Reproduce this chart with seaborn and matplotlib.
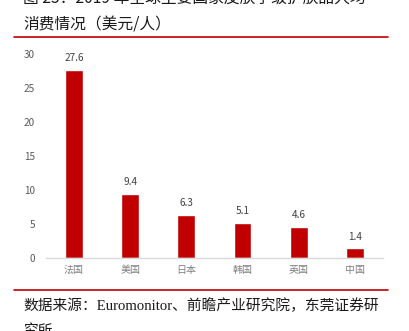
import matplotlib
matplotlib.use("Agg")
import matplotlib.pyplot as plt
import seaborn as sns
import pandas as pd

countries = ["法国", "美国", "日本", "韩国", "英国", "中国"]
spend = [27.6, 9.4, 6.3, 5.1, 4.6, 1.4]
yticks = [0, 5, 10, 15, 20, 25, 30]

sns.set_theme(style="white")
plt.rcParams["font.family"] = ["Noto Sans CJK SC", "DejaVu Sans"]

df = pd.DataFrame({"country": countries, "spend": spend})

fig = plt.figure(figsize=(4.09, 3.31), dpi=100)
ax = fig.add_axes([0.1125, 0.2205, 0.8235, 0.6165])

sns.barplot(data=df, x="country", y="spend", color="#C00000", saturation=1,
            width=0.32, ax=ax)

ax.set_ylim(0, 30)
ax.set_yticks(yticks)
ax.set_yticklabels([str(t) for t in yticks], fontsize=7.2, color="#595959")
ax.tick_params(axis="y", length=0, pad=8)
ax.tick_params(axis="x", length=0, pad=5, labelsize=7.2, labelcolor="#7f7f7f")
ax.set_xlabel("")
ax.set_ylabel("")
for s in ["top", "right", "left"]:
    ax.spines[s].set_visible(False)
ax.spines["bottom"].set_color("#D9D9D9")
ax.spines["bottom"].set_linewidth(1.0)

for p, v in zip(ax.patches, spend):
    ax.annotate(f"{v:.1f}", (p.get_x() + p.get_width() / 2, v),
                xytext=(0, 5), textcoords="offset points",
                ha="center", va="bottom", fontsize=7.2, color="#404040")

# heading (first line runs off the top edge) and rules
fig.text(23 / 409, 1 - (-1) / 331, "图 25：2019 年全球主要国家皮肤学级护肤品人均",
         fontsize=11.3, color="#1a1a1a", va="center", ha="left")
fig.text(23 / 409, 1 - 25.5 / 331, "消费情况（美元/人）",
         fontsize=11.3, color="#1a1a1a", va="center", ha="left")
fig.add_artist(plt.Line2D([14 / 409, 388 / 409], [1 - 37 / 331, 1 - 37 / 331],
                          color="#C00000", linewidth=1.2))
fig.add_artist(plt.Line2D([14 / 409, 388 / 409], [1 - 290 / 331, 1 - 290 / 331],
                          color="#C00000", linewidth=1.2))
fig.text(23 / 409, 1 - 306 / 331,
         "数据来源：Euromonitor、前瞻产业研究院，东莞证券研",
         fontsize=10.6, color="#1a1a1a", va="center", ha="left",
         family=["Liberation Serif", "Noto Sans CJK SC"])
fig.text(23 / 409, 1 - 331 / 331, "究所",
         fontsize=10.6, color="#1a1a1a", va="center", ha="left",
         family=["Liberation Serif", "Noto Sans CJK SC"])

fig.savefig("out.png", dpi=100)
